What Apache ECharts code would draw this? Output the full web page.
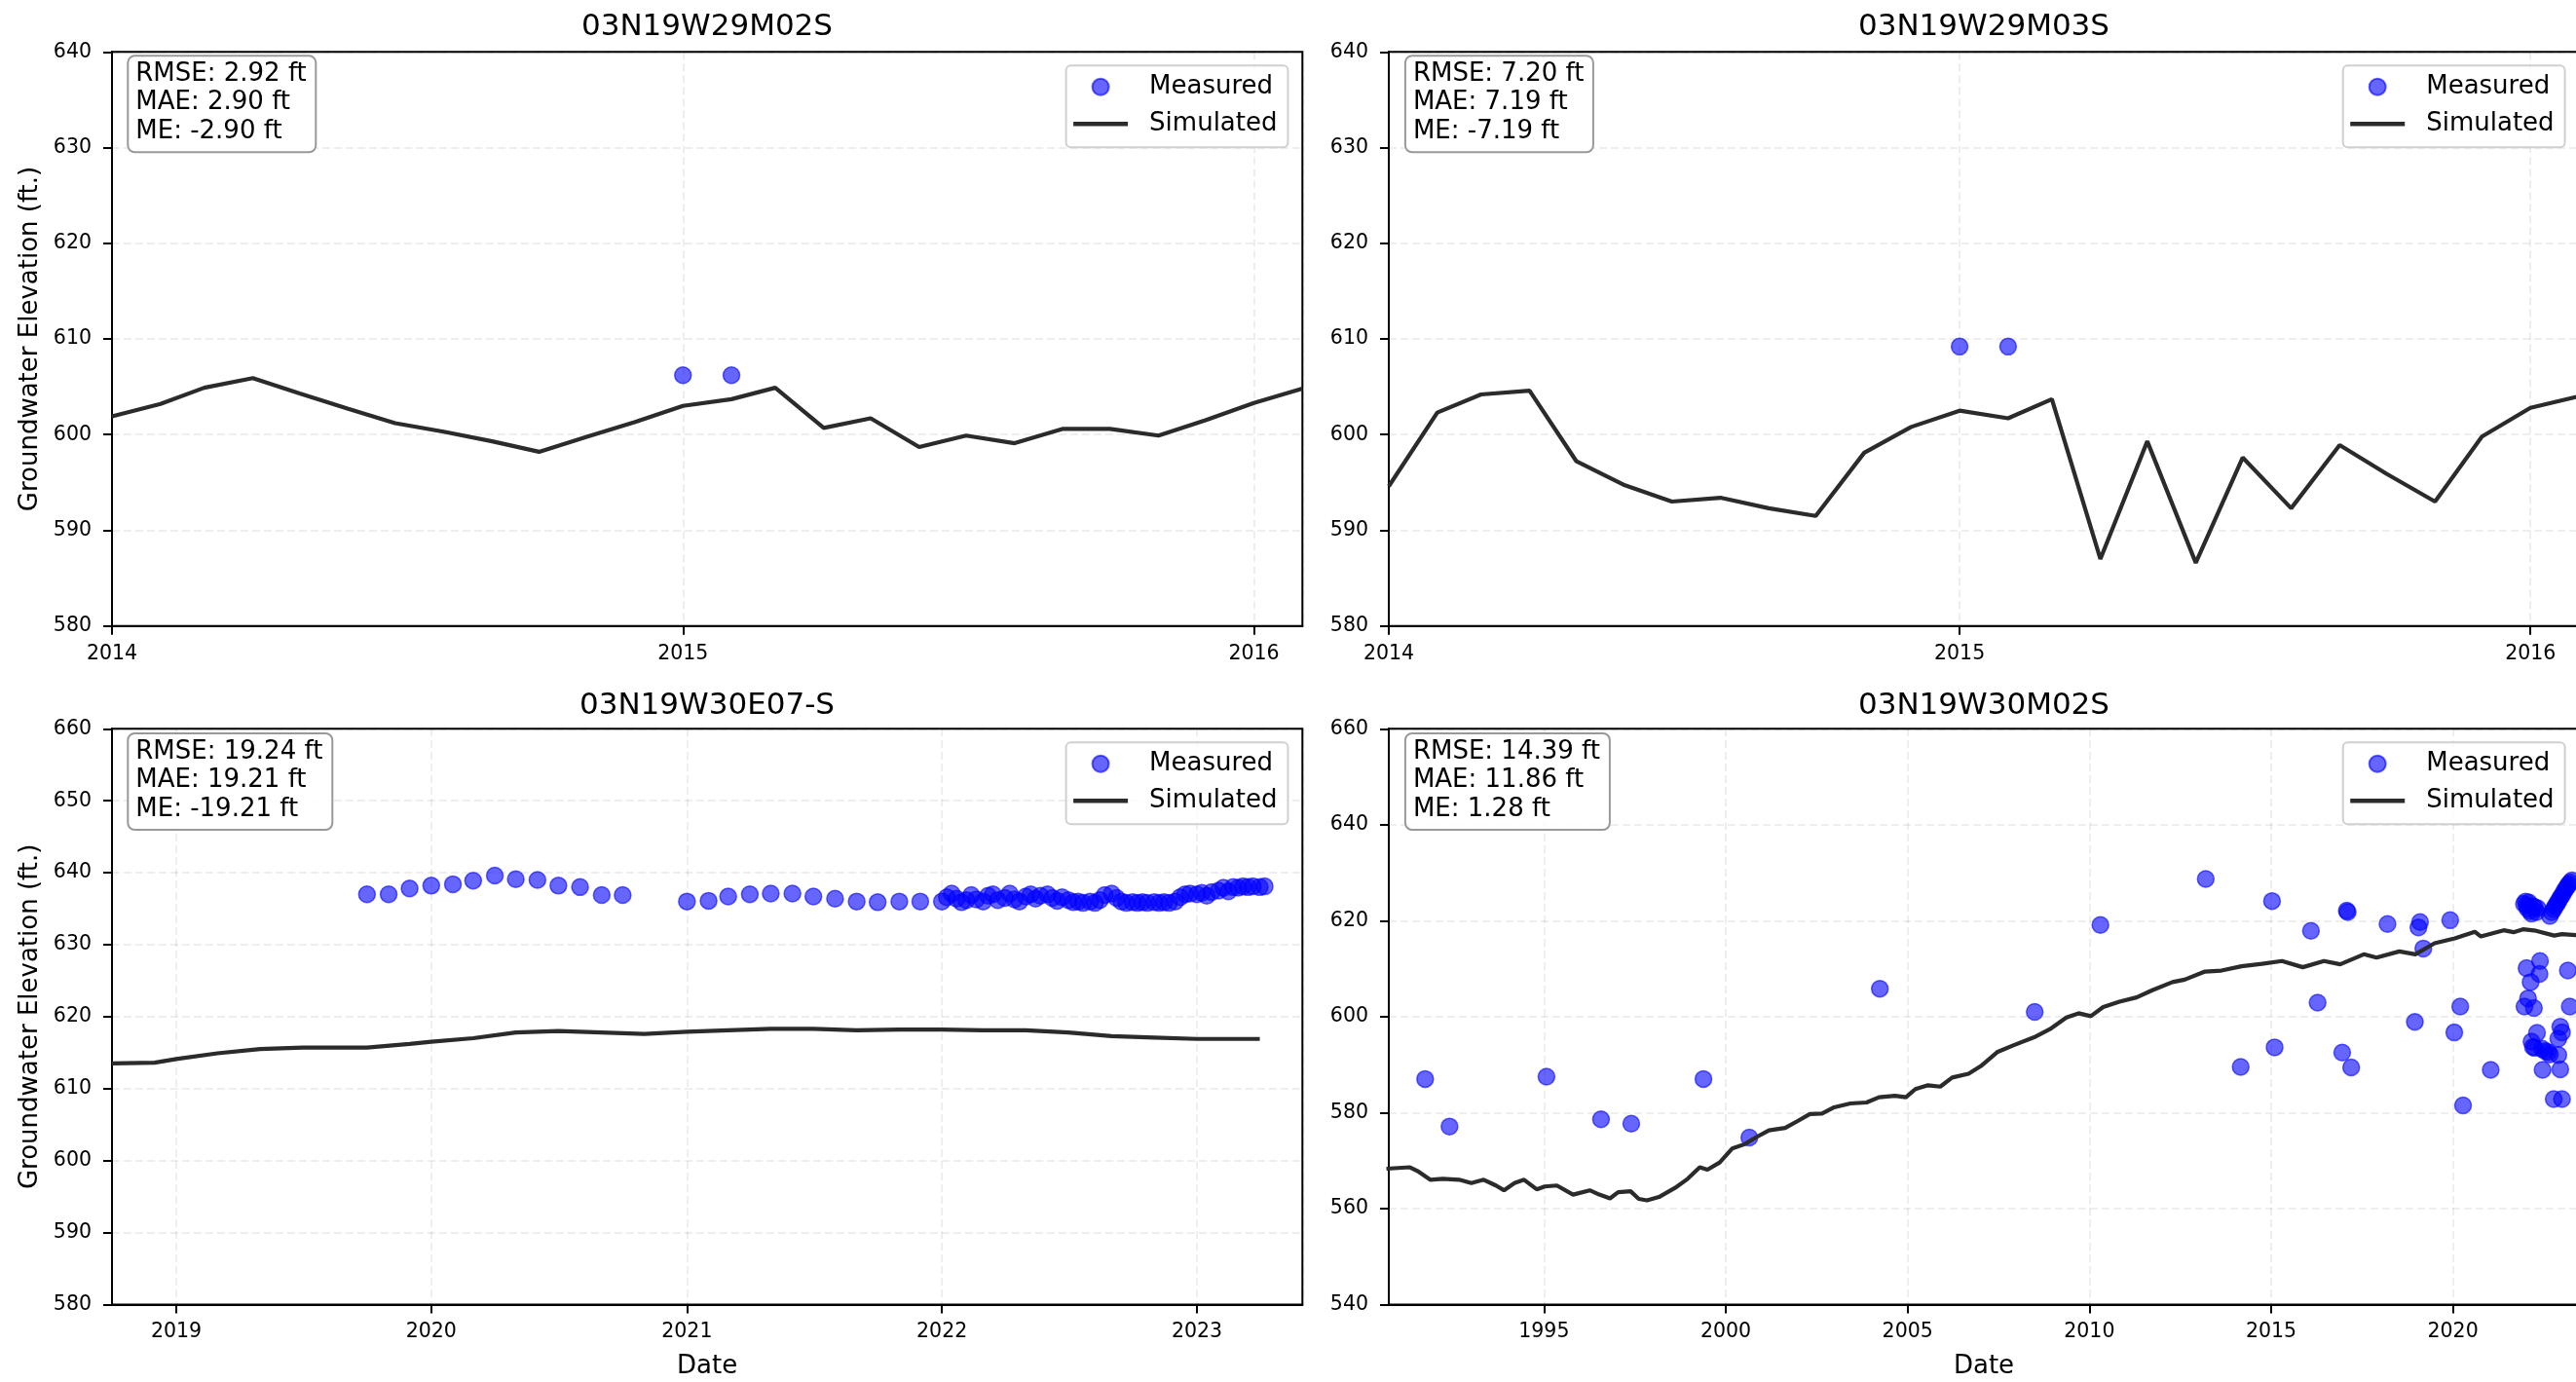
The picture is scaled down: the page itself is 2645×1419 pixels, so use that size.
<!DOCTYPE html>
<html><head><meta charset="utf-8">
<script src="https://cdn.jsdelivr.net/npm/echarts@6/dist/echarts.min.js"></script>
<style>html,body{margin:0;padding:0;background:#fff}#c{width:2645px;height:1419px}</style>
</head><body><div id="c"></div>
<script>
// ---------------- DATA ----------------
const wellNames = ['03N19W29M02S', '03N19W29M03S', '03N19W30E07-S', '03N19W30M02S'];
const statsText = [
  'RMSE: 2.92 ft\nMAE: 2.90 ft\nME: -2.90 ft',
  'RMSE: 7.20 ft\nMAE: 7.19 ft\nME: -7.19 ft',
  'RMSE: 19.24 ft\nMAE: 19.21 ft\nME: -19.21 ft',
  'RMSE: 14.39 ft\nMAE: 11.86 ft\nME: 1.28 ft'
];
const yMins = [580, 580, 580, 540];
const yMaxs = [640, 640, 660, 660];
const ySteps = [10, 10, 10, 20];
const xMins = ['2014-01-01', '2014-01-01', '2018-10-01', '1990-09-25'];
const xMaxs = ['2016-02-01', '2016-02-01', '2023-06-01', '2023-06-20'];
const xTickYears = [1, 1, 1, 5];

// Panel 1: 03N19W29M02S
const simDates1 = ['2014-01-01','2014-02-01','2014-03-01','2014-04-01','2014-05-01','2014-06-01','2014-07-01','2014-08-01','2014-09-01','2014-10-01','2014-11-01','2014-12-01',
  '2015-01-01','2015-02-01','2015-03-01','2015-04-01','2015-05-01','2015-06-01','2015-07-01','2015-08-01','2015-09-01','2015-10-01','2015-11-01','2015-12-01','2016-01-01','2016-02-01'];
const simValues1 = [601.9, 603.2, 604.9, 605.9, 604.3, 602.7, 601.2, 600.3, 599.3, 598.2, 599.8, 601.3,
  603.0, 603.7, 604.9, 600.7, 601.7, 598.7, 599.9, 599.1, 600.6, 600.6, 599.9, 601.5, 603.3, 604.8];
const obsDates1 = ['2015-01-01', '2015-02-01'];
const obsValues1 = [606.2, 606.2];

// Panel 2: 03N19W29M03S
const simDates2 = simDates1;
const simValues2 = [594.6, 602.3, 604.2, 604.6, 597.2, 594.7, 593.0, 593.4, 592.3, 591.5, 598.1, 600.8,
  602.5, 601.7, 603.7, 587.0, 599.3, 586.6, 597.6, 592.3, 598.9, 595.9, 593.0, 599.8, 602.8, 604.0];
const obsDates2 = ['2015-01-01', '2015-02-01'];
const obsValues2 = [609.2, 609.2];

// Panel 3: 03N19W30E07-S
const simDates3 = ['2018-10-01','2018-12-01','2019-01-01','2019-03-01','2019-05-01','2019-07-01','2019-10-01','2019-12-01','2020-01-01','2020-03-01','2020-05-01','2020-07-01','2020-09-01','2020-11-01',
  '2021-01-01','2021-03-01','2021-05-01','2021-07-01','2021-09-01','2021-11-01','2022-01-01','2022-03-01','2022-05-01','2022-07-01','2022-09-01','2022-11-01','2023-01-01','2023-03-01','2023-04-01'];
const simValues3 = [613.5, 613.6, 614.1, 614.9, 615.5, 615.7, 615.7, 616.2, 616.5, 617.0, 617.8, 618.0, 617.8, 617.6,
  617.9, 618.1, 618.3, 618.3, 618.1, 618.2, 618.2, 618.1, 618.1, 617.8, 617.3, 617.1, 616.9, 616.9, 616.9];
const obsDates3 = ['2019-10-01','2019-11-01','2019-12-01','2020-01-01','2020-02-01','2020-03-01','2020-04-01','2020-05-01','2020-06-01','2020-07-01','2020-08-01','2020-09-01','2020-10-01',
  '2021-01-01','2021-02-01','2021-03-01','2021-04-01','2021-05-01','2021-06-01','2021-07-01','2021-08-01','2021-09-01','2021-10-01','2021-11-01','2021-12-01',
  '2022-01-01','2022-01-08','2022-01-15','2022-01-22','2022-01-29','2022-02-05','2022-02-12','2022-02-19','2022-03-01','2022-03-08','2022-03-15','2022-03-22',
  '2022-04-01','2022-04-08','2022-04-15','2022-04-22','2022-05-01','2022-05-08','2022-05-15','2022-05-22','2022-06-01','2022-06-08','2022-06-15','2022-06-22',
  '2022-07-01','2022-07-08','2022-07-15','2022-07-22','2022-08-01','2022-08-08','2022-08-15','2022-08-22','2022-09-01','2022-09-08','2022-09-15','2022-09-22',
  '2022-10-01','2022-10-08','2022-10-15','2022-10-22','2022-11-01','2022-11-08','2022-11-15','2022-11-22','2022-12-01','2022-12-08','2022-12-15','2022-12-22',
  '2023-01-01','2023-01-08','2023-01-15','2023-01-22','2023-02-01','2023-02-08','2023-02-15','2023-02-22','2023-03-01','2023-03-08','2023-03-15','2023-03-22','2023-04-01','2023-04-08'];
const obsValues3 = [637.0, 637.0, 637.8, 638.2, 638.4, 638.9, 639.6, 639.1, 639.0, 638.2, 638.0, 636.9, 636.9,
  636.0, 636.1, 636.7, 637.0, 637.1, 637.1, 636.7, 636.4, 636.0, 635.9, 636.0, 636.0,
  636.0, 636.6, 637.1, 636.4, 635.9, 636.2, 636.9, 636.3, 636.0, 636.8, 637.0, 636.2,
  636.5, 637.1, 636.3, 636.0, 636.7, 637.0, 636.4, 636.8, 637.0, 636.5, 636.1, 636.6,
  636.2, 635.9, 636.0, 635.8, 636.0, 635.8, 636.2, 636.9, 637.1, 636.5, 636.0, 635.8,
  635.9, 635.8, 635.9, 635.8, 635.9, 635.8, 635.9, 635.8, 636.0, 636.6, 637.0, 637.1,
  637.0, 637.2, 636.8, 637.3, 637.5, 637.9, 637.4, 638.0, 637.9, 638.1, 638.0, 638.1, 638.0, 638.1];

// Panel 4: 03N19W30M02S
const simDates4 = ['1990-09-01','1991-04-25','1991-07-20','1991-11-15','1992-03-20','1992-09-01','1993-01-01','1993-05-05','1993-09-05','1993-11-25',
  '1994-03-10','1994-06-15','1994-10-20','1995-01-08','1995-05-10','1995-10-20','1996-04-05','1996-07-10','1996-10-25','1997-01-15',
  '1997-05-20','1997-08-10','1997-11-01','1998-03-01','1998-08-10','1998-12-15','1999-04-15','1999-07-01','1999-11-01','2000-03-05',
  '2000-07-08','2000-11-05','2001-03-10','2001-08-20','2001-12-20','2002-04-25','2002-08-25','2002-12-25','2003-06-05','2003-11-15',
  '2004-03-20','2004-08-28','2004-12-15','2005-03-20','2005-07-25','2005-11-25','2006-03-25','2006-09-05','2007-01-08','2007-06-20',
  '2007-11-28','2008-06-25','2008-12-01','2009-05-15','2009-09-15','2010-01-15','2010-05-20','2010-10-30','2011-04-20','2011-09-25',
  '2012-04-15','2012-08-15','2013-03-08','2013-08-20','2014-03-10','2014-10-01','2015-04-20','2015-11-15','2016-06-15','2016-11-25',
  '2017-07-20','2017-11-25','2018-07-12','2018-12-20','2019-07-01','2020-01-20','2020-08-08','2020-10-08','2021-05-25','2021-09-01',
  '2021-12-05','2022-04-15','2022-10-15','2023-01-01','2023-05-15','2023-08-01'];
const simValues4 = [568.3, 568.6, 567.7, 566.0, 566.2, 566.0, 565.3, 566.0, 564.8, 563.8,
  565.3, 566.0, 564.0, 564.6, 564.8, 562.9, 563.8, 562.9, 562.1, 563.4,
  563.6, 562.0, 561.7, 562.4, 564.3, 566.2, 568.6, 568.1, 569.6, 572.5,
  573.4, 574.9, 576.3, 576.8, 578.2, 579.7, 579.8, 581.1, 581.9, 582.1,
  583.2, 583.5, 583.2, 584.9, 585.7, 585.4, 587.3, 588.1, 589.7, 592.6,
  594.0, 595.7, 597.4, 599.8, 600.7, 600.1, 602.0, 603.1, 604.0, 605.5,
  607.2, 607.7, 609.4, 609.6, 610.5, 611.0, 611.6, 610.3, 611.6, 610.9,
  613.0, 612.3, 613.6, 613.0, 615.3, 616.3, 617.7, 616.7, 618.0, 617.6,
  618.2, 617.9, 616.9, 617.2, 617.0, 617.0];
const obsDates4 = ['1991-09-25','1992-05-27','1995-01-26','1996-07-27','1997-05-27','1999-05-22','2000-08-25','2004-03-28','2008-07-01','2010-04-22',
  '2013-03-15','2014-03-01','2015-01-10','2015-02-05','2016-02-05','2016-04-12','2016-12-15','2017-01-30','2017-02-08','2017-03-15',
  '2018-03-15','2018-12-15','2019-01-20','2019-02-05','2019-03-10','2019-12-05','2020-01-15','2020-03-15','2020-04-12','2021-01-15',
  '2021-12-15','2022-01-01','2022-01-10','2022-01-20','2022-02-01','2022-02-15','2022-03-01','2022-03-15','2022-04-01','2022-04-20','2022-05-01',
  '2022-09-01','2022-09-20','2022-10-10','2022-10-25','2022-11-10','2022-11-25','2022-12-10','2022-12-25','2023-01-10','2023-01-25','2023-02-10','2023-02-25','2023-03-10','2023-03-25','2023-04-10',
  '2022-01-10','2022-05-25','2022-05-20','2022-02-20','2023-03-01','2022-01-25','2021-12-20','2022-03-25','2023-03-20','2022-04-25',
  '2022-12-15','2023-01-01','2022-03-15','2022-06-15','2022-08-15','2022-11-25','2022-06-20','2022-12-15','2022-10-10','2023-01-01',
  '2022-11-25','2022-03-01','2022-04-01','2022-07-15','2022-09-01'];
const obsValues4 = [587.0, 577.1, 587.5, 578.6, 577.7, 587.0, 574.8, 605.8, 601.0, 619.1,
  628.7, 589.5, 624.1, 593.6, 617.9, 602.9, 592.5, 622.1, 621.8, 589.4,
  619.3, 598.9, 618.6, 619.7, 614.2, 620.1, 596.7, 602.1, 581.5, 588.9,
  623.5, 624.0, 623.2, 622.5, 623.8, 622.0, 621.5, 623.0, 622.8, 621.8, 622.6,
  621.0, 621.8, 622.4, 623.0, 623.5, 624.0, 624.6, 625.1, 625.6, 626.2, 626.7, 627.2, 627.6, 628.0, 628.4,
  610.1, 611.6, 608.9, 607.2, 609.6, 603.8, 602.1, 601.8, 602.1, 596.6,
  597.9, 596.7, 593.7, 593.3, 592.6, 592.0, 588.9, 589.0, 582.8, 582.8,
  595.4, 594.8, 593.5, 592.8, 592.1];

// ---------------- CHART ----------------
const FONT = 'DejaVu Sans';
const YEAR = 365 * 24 * 3600 * 1000;
const ts = s => new Date(s + 'T00:00:00').getTime();
const zip = (d, v) => d.map((x, i) => [x, v[i]]);

const gridBoxes = [
  {left: 115, top: 53.3, width: 1222.3, height: 589.4},
  {left: 1426, top: 53.3, width: 1222, height: 589.4},
  {left: 115, top: 748.3, width: 1222.3, height: 591.1},
  {left: 1426, top: 748.3, width: 1222, height: 591.1}
];
const titleCenters = [[726, 12], [2037, 12], [726, 709], [2037, 709]];
const legendPos = [[1094.6, 67.3], [2405.7, 67.3], [1094.6, 762.3], [2405.7, 762.3]];
const statsPos = [[130.7, 57.3], [1442.3, 57.3], [130.7, 753], [1442.3, 753]];

const sims = [[simDates1, simValues1], [simDates2, simValues2], [simDates3, simValues3], [simDates4, simValues4]];
const obs = [[obsDates1, obsValues1], [obsDates2, obsValues2], [obsDates3, obsValues3], [obsDates4, obsValues4]];

const gridLine = {show: true, lineStyle: {color: 'rgba(0,0,0,0.09)', width: 1.5, type: [8, 4]}};
const axisLineS = {show: true, lineStyle: {color: '#000', width: 2}};
const tickS = {show: true, inside: false, length: 9, lineStyle: {color: '#000', width: 2}};

const option = {
  animation: false,
  backgroundColor: '#fff',
  textStyle: {fontFamily: FONT},
  grid: gridBoxes.map(g => Object.assign({show: true, borderColor: '#000', borderWidth: 2, backgroundColor: 'transparent', containLabel: false, outerBoundsMode: 'none'}, g)),
  title: [].concat(
    wellNames.map((n, i) => ({
      text: n, left: titleCenters[i][0], top: titleCenters[i][1], textAlign: 'center', padding: 0,
      textStyle: {fontFamily: FONT, fontSize: 31, fontWeight: 'normal', color: '#000'}
    })),
    statsText.map((t, i) => ({
      text: t, left: statsPos[i][0], top: statsPos[i][1], padding: [4, 10, 7, 8.6],
      backgroundColor: 'rgba(255,255,255,0.85)', borderColor: '#999', borderWidth: 2, borderRadius: 7,
      textStyle: {fontFamily: FONT, fontSize: 26, fontWeight: 'normal', color: '#000', lineHeight: 29.5}
    }))
  ),
  legend: legendPos.map(p => ({
    left: p[0], top: p[1], orient: 'vertical', selectedMode: false,
    padding: [7, 11, 9, 7.5], itemGap: 8, itemWidth: 56, itemHeight: 17,
    backgroundColor: 'rgba(255,255,255,0.8)', borderColor: '#d0d0d0', borderWidth: 2, borderRadius: 5,
    textStyle: {fontFamily: FONT, fontSize: 26, color: '#000', lineHeight: 30, padding: [0, 0, 0, 17]},
    data: [{name: 'Measured', icon: 'circle'}, {name: 'Simulated', icon: 'path://M0,0H56V4.5H0Z'}]
  })),
  xAxis: gridBoxes.map((g, i) => ({
    type: 'time', gridIndex: i, min: ts(xMins[i]), max: ts(xMaxs[i]),
    minInterval: xTickYears[i] * YEAR, maxInterval: xTickYears[i] * YEAR,
    axisLine: axisLineS, axisTick: tickS, splitLine: gridLine,
    axisLabel: {
      color: '#000', fontSize: 20.5, fontFamily: FONT, margin: 18, hideOverlap: false,
      formatter: v => { const d = new Date(v); return (d.getMonth() === 0 && d.getDate() === 1 && d.getFullYear() % xTickYears[i] === 0) ? String(d.getFullYear()) : ''; }
    },
    name: i >= 2 ? 'Date' : '', nameLocation: 'middle', nameGap: 51,
    nameTextStyle: {fontFamily: FONT, fontSize: 26, color: '#000'}
  })),
  yAxis: gridBoxes.map((g, i) => ({
    type: 'value', gridIndex: i, min: yMins[i], max: yMaxs[i], interval: ySteps[i],
    axisLine: axisLineS, axisTick: tickS, splitLine: gridLine,
    axisLabel: {color: '#000', fontSize: 20.5, fontFamily: FONT, margin: 21},
    name: (i % 2 === 0) ? 'Groundwater Elevation (ft.)' : '', nameLocation: 'middle', nameRotate: 90, nameGap: 71,
    nameTextStyle: {fontFamily: FONT, fontSize: 26, color: '#000'}
  })),
  series: [].concat(...gridBoxes.map((g, i) => [
    {
      type: 'scatter', name: 'Measured', xAxisIndex: i, yAxisIndex: i, data: zip(obs[i][0], obs[i][1]),
      symbol: 'circle', symbolSize: 17, clip: true, silent: true, z: 2,
      itemStyle: {color: 'rgba(0,0,255,0.6)', borderColor: 'rgba(0,0,255,0.6)', borderWidth: 1.5, opacity: 1}
    },
    {
      type: 'line', name: 'Simulated', xAxisIndex: i, yAxisIndex: i, data: zip(sims[i][0], sims[i][1]),
      showSymbol: false, symbol: 'none', clip: true, silent: true, z: 3, color: '#2b2b2b',
      itemStyle: {color: '#2b2b2b'}, lineStyle: {color: '#2b2b2b', width: 4.2}
    }
  ]))
};

const chart = echarts.init(document.getElementById('c'), null, {renderer: 'canvas', width: 2645, height: 1419});
chart.setOption(option);
</script>
</body></html>
